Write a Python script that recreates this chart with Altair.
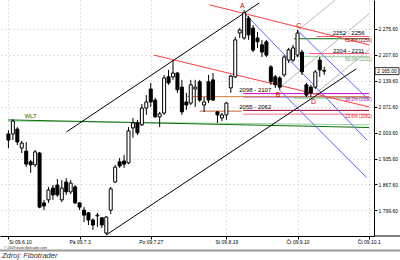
import altair as alt
import pandas as pd

# ---------------- data ----------------
opens = [2000, 2000, 2013, 1963, 1955, 1927, 1919, 1950, 1819, 1827, 1858, 1866, 1827, 1874, 1848, 1861,
         1819, 1800, 1793, 1774, 1785, 1780, 1740, 1800, 1874, 1927, 1929, 1924, 2016, 2029, 2024, 2068,
         2118, 2089, 2045, 2055, 2150, 2150, 2160, 2123, 2084, 2081, 2118, 2137, 2076, 2137, 2142, 2058,
         2042, 2050, 2121, 2150, 2265, 2252, 2304, 2278, 2252, 2234, 2242, 2176, 2150, 2147, 2155, 2194,
         2194, 2207, 2215, 2129, 2123, 2123, 2194, 2167]
highs = [2010, 2039, 2018, 1982, 1979, 1932, 1958, 1953, 1827, 1861, 1866, 1882, 1879, 1884, 1879, 1866,
         1821, 1808, 1795, 1779, 1793, 1782, 1785, 1861, 1919, 1937, 1945, 2018, 2042, 2037, 2079, 2102,
         2134, 2095, 2058, 2155, 2168, 2194, 2163, 2142, 2108, 2142, 2142, 2142, 2097, 2155, 2160, 2060,
         2055, 2084, 2155, 2255, 2278, 2325, 2310, 2286, 2268, 2247, 2247, 2181, 2155, 2152, 2207, 2226,
         2234, 2273, 2221, 2134, 2129, 2168, 2202, 2176]
lows = [1963, 1984, 1971, 1950, 1913, 1898, 1913, 1805, 1800, 1819, 1827, 1835, 1821, 1840, 1842, 1816,
        1800, 1769, 1761, 1748, 1756, 1753, 1735, 1790, 1871, 1911, 1911, 1921, 1990, 1997, 2021, 2050,
        2071, 2042, 2018, 2050, 2129, 2142, 2108, 2050, 2063, 2076, 2071, 2084, 2058, 2081, 2087, 2029,
        2034, 2037, 2108, 2147, 2252, 2247, 2247, 2215, 2226, 2202, 2202, 2129, 2121, 2116, 2150, 2186,
        2189, 2202, 2155, 2097, 2097, 2118, 2150, 2155]
closes = [1984, 2034, 1979, 1976, 1921, 1919, 1953, 1808, 1811, 1853, 1840, 1840, 1858, 1848, 1871, 1819,
          1808, 1787, 1774, 1761, 1787, 1761, 1782, 1856, 1913, 1916, 1921, 2008, 2029, 2003, 2068, 2084,
          2084, 2045, 2053, 2147, 2134, 2160, 2116, 2058, 2076, 2129, 2123, 2089, 2084, 2089, 2089, 2050,
          2050, 2081, 2152, 2247, 2273, 2318, 2260, 2220, 2242, 2215, 2207, 2137, 2129, 2123, 2202, 2221,
          2226, 2265, 2163, 2102, 2108, 2163, 2168, 2165]

x_tick_values = [0, 16, 32, 49, 65, 81]
x_tick_labels = ["St 09.6.10", "Pá 09.7.3", "Po 09.7.27", "St 09.8.19", "Čt 09.9.10", "Čt 09.10.1"]
y_tick_values = [1799.6, 1867.6, 1935.6, 2003.6, 2071.6, 2139.6, 2207.6, 2275.6]

# trend lines (bar index, price)
trend_ids = ["wlt2", "wlt", "g1", "g2", "g3", "b1", "b2", "b3", "r1", "r2", "k1", "k2"]
trend_x1 = [-0.1, -0.1, 64.9, 60.9, 68.6, 52.8, 60.9, 64.9, 45.2, 32.7, 13.0, 22.0]
trend_p1 = [2034, 2037, 2270, 2121, 2102, 2320, 2116, 2273, 2339, 2207, 2005, 1735]
trend_x2 = [81.07, 81.07, 73.4, 81.07, 81.07, 80.6, 80.6, 81.07, 81.07, 81.07, 56.4, 78.2]
trend_p2 = [2024, 2017, 2351, 2315, 2221, 1984, 1885, 2089, 2234, 2071, 2344, 2171]
trend_colors = ["#9ccf9c", "#0b6e0b", "#b8b8b8", "#b8b8b8", "#b8b8b8", "#5a64ff", "#5a64ff", "#5a64ff",
                "#ff3d3d", "#ff3d3d", "#000000", "#000000"]

# horizontal support / resistance levels
level_ids = ["h1a", "h1b", "h2a", "h2b", "h3d", "h3b", "h3a", "h3c", "h4a", "h4b", "h4c"]
level_price = [2256, 2250, 2211, 2203, 2097, 2098, 2106, 2094, 2060, 2062, 2052]
level_x1 = [69.3, 64.2, 67.7, 64.2, 52.8, 40.2, 52.8, 64.2, 43.0, 52.8, 52.8]
level_x2 = [81.07, 81.07, 81.07, 81.07, 81.07, 81.07, 81.07, 81.07, 52.4, 81.07, 81.07]
level_colors = ["#ff4f6e", "#0b6e0b", "#ff4f6e", "#9ccf9c", "#6a6aff", "#e07a3a", "#d000c8", "#7fd07f",
                "#c8602a", "#99002e", "#ff6f86"]

zone_texts = ["2252 - 2256", "2204 - 2211", "2098 - 2107", "2055 - 2062"]
zone_hi = [2256, 2211, 2107, 2062]
zone_lo = [2252, 2204, 2098, 2055]
zone_center = [76.5, 76.5, 55.5, 55.5]
zone_tags = ["61.8% (2256)", "50.0% (2211)", "38.2% (2107)", "23.6% (2062)"]
zone_tag_colors = ["#b00020", "#6a9a6a", "#c000b8", "#e01030"]

pivot_names = ["A", "C", "B", "D"]
pivot_x = [52.6, 65.3, 60.6, 68.6]
pivot_p = [2325, 2273, 2116, 2097]
pivot_above = [True, True, False, False]

wlt_text = ["WLT"]
wlt_x = [3.6]
wlt_p = [2037]

credit_texts = ["© 2009 www.fibotrader.com", "Zdroj: Fibotrader"]

FONT = "Liberation Sans"
X_DOMAIN = [-0.77, 81.07]
Y_DOMAIN = [1732.2, 2351.7]

# ---------------- frames ----------------
candles = pd.DataFrame({"x": range(len(opens)), "open": opens, "high": highs, "low": lows, "close": closes})

trend_rows = []
for k, tid in enumerate(trend_ids):
    trend_rows.append({"id": tid, "x": trend_x1[k], "p": trend_p1[k], "o": k, "c": trend_colors[k]})
    trend_rows.append({"id": tid, "x": trend_x2[k], "p": trend_p2[k], "o": k, "c": trend_colors[k]})
trends = pd.DataFrame(trend_rows)

levels = pd.DataFrame({"id": level_ids, "x": level_x1, "x2": level_x2, "p": level_price, "c": level_colors})
zones = pd.DataFrame({"t": zone_texts, "hi": zone_hi, "lo": zone_lo, "x": zone_center,
                      "tag": zone_tags, "tc": zone_tag_colors})
pivots = pd.DataFrame({"t": pivot_names, "x": pivot_x, "p": pivot_p, "above": pivot_above})
wlt = pd.DataFrame({"t": wlt_text, "x": wlt_x, "p": wlt_p})
last = pd.DataFrame({"p": [closes[-1]]})
credits = pd.DataFrame({"t": credit_texts})

xs = alt.Scale(domain=X_DOMAIN, nice=False, zero=False)
ys = alt.Scale(domain=Y_DOMAIN, nice=False, zero=False)

label_expr = "''"
for v, lab in reversed(list(zip(x_tick_values, x_tick_labels))):
    label_expr = f"datum.value == {v} ? '{lab}' : ({label_expr})"

x_axis = alt.Axis(values=x_tick_values, labelExpr=label_expr, title=None, grid=True,
                  gridDash=[1, 3], gridColor="#c4c4c4", tickSize=3, labelFontSize=5,
                  labelPadding=0, domainColor="#000000", tickColor="#000000", labelColor="#000000",
                  labelFont=FONT,
                  labelAlign={"condition": {"test": "datum.value == 0", "value": "left"}, "value": "center"})
y_axis = alt.Axis(orient="right", values=y_tick_values,
                  labelExpr="replace(format(datum.value, ',.2f'), ',', ' ')", title=None, grid=True,
                  gridDash=[1, 3], gridColor="#c4c4c4", tickSize=3, labelFontSize=5, labelPadding=1,
                  domainColor="#000000", tickColor="#000000", labelColor="#000000", labelFont=FONT)


def X(f="x"):
    return alt.X(f"{f}:Q", scale=xs, axis=x_axis)


def Y(f="p"):
    return alt.Y(f"{f}:Q", scale=ys, axis=y_axis)


trend_layer = alt.Chart(trends).mark_line(strokeWidth=1).encode(
    x=X(), y=Y(), detail="id:N", order="o:Q",
    color=alt.Color("c:N", scale=None))

level_layer = alt.Chart(levels).mark_rule(strokeWidth=1).encode(
    x=X(), x2="x2:Q", y=Y(),
    color=alt.Color("c:N", scale=None))

wick_layer = alt.Chart(candles).mark_rule(color="black", strokeWidth=1).encode(
    x=X(), y=Y("low"), y2="high:Q")

body_layer = alt.Chart(candles).mark_bar(size=3, stroke="black", strokeWidth=1).encode(
    x=X(), y=Y("open"), y2="close:Q",
    fill=alt.condition("datum.close >= datum.open", alt.value("white"), alt.value("black")))

zone_text = alt.Chart(zones).mark_text(fontSize=6, font=FONT, color="#000000", baseline="alphabetic",
                                       dy=-1).encode(x=X(), y=Y("hi"), text="t:N")

zone_tag = alt.Chart(zones).mark_text(fontSize=4.5, font=FONT, align="right", baseline="top", dy=0.5).encode(
    x=alt.value(372), y=Y("lo"), text="tag:N", color=alt.Color("tc:N", scale=None))

pivot_top = alt.Chart(pivots).transform_filter("datum.above").mark_text(
    fontSize=7, font=FONT, color="#e00000", baseline="bottom", dy=-1).encode(x=X(), y=Y(), text="t:N")
pivot_bot = alt.Chart(pivots).transform_filter("!datum.above").mark_text(
    fontSize=7, font=FONT, color="#e00000", baseline="top", dy=1).encode(x=X(), y=Y(), text="t:N")

wlt_layer = alt.Chart(wlt).mark_text(fontSize=6, font=FONT, color="#0b6e0b", align="left",
                                     baseline="bottom", dy=-1).encode(x=X(), y=Y(), text="t:N")

box_path = "M-1,-0.29L1,-0.29L1,0.29L-1,0.29Z"
last_box = alt.Chart(last).mark_point(shape=box_path, size=576, filled=True, fill="white",
                                      stroke="black", strokeWidth=0.8, opacity=1).encode(
    x=alt.value(387), y=Y())
last_text = alt.Chart(last).transform_calculate(
    lab="replace(format(datum.p, ',.2f'), ',', ' ')").mark_text(
    fontSize=5, font=FONT, color="black").encode(x=alt.value(387), y=Y(), text="lab:N")

axis_ext = alt.Chart(credits.head(1)).mark_rule(color="black", strokeWidth=1).encode(
    x=alt.value(374), x2=alt.value(400), y=alt.value(236))
gray_bar = alt.Chart(credits.head(1)).mark_rule(color="#9a9a9a", strokeWidth=2).encode(
    x=alt.value(0), x2=alt.value(400), y=alt.value(250.5))
copy_text = alt.Chart(credits.head(1)).mark_text(fontSize=3.5, font=FONT, align="left", color="#333333").encode(
    x=alt.value(4), y=alt.value(247.5), text="t:N")
src_text = alt.Chart(credits.tail(1)).mark_text(fontSize=7.5, font=FONT, fontStyle="italic", align="left",
                                               color="#333333").encode(
    x=alt.value(2), y=alt.value(256), text="t:N")

chart = alt.layer(
    level_layer, trend_layer, wick_layer, body_layer, zone_text, zone_tag, pivot_top, pivot_bot,
    wlt_layer, last_box, last_text, axis_ext, gray_bar, copy_text, src_text
).properties(
    width=374, height=236,
    padding={"left": 0, "top": 0, "right": 26, "bottom": 24},
    autosize=alt.AutoSizeParams(type="none"),
    background="white"
).configure_view(stroke=None)

chart.save("out.html", embed_options={"renderer": "svg", "actions": False})
